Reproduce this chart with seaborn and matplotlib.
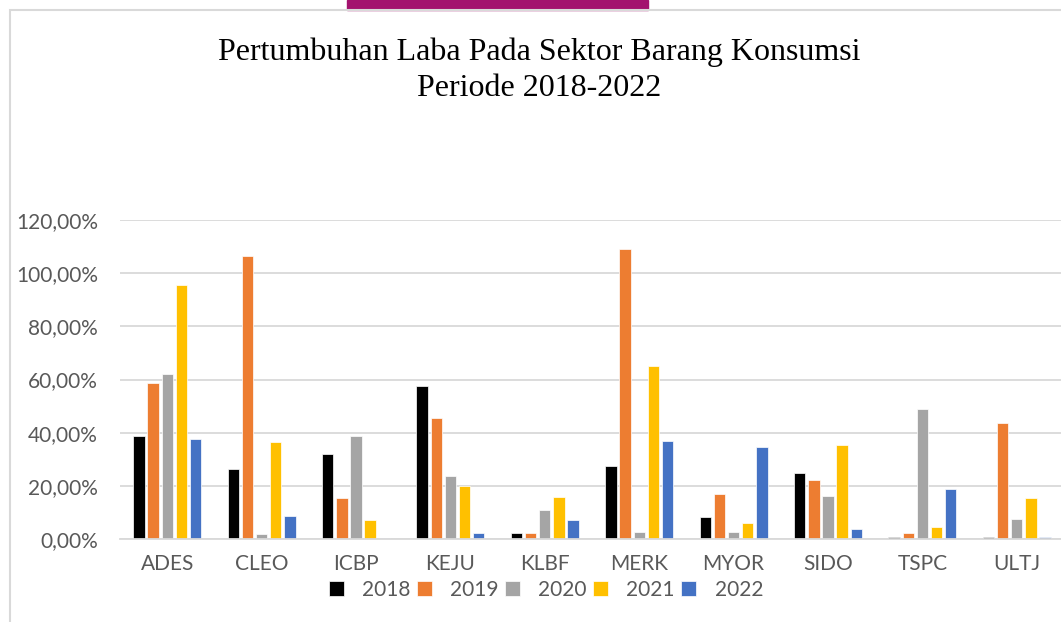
import pandas as pd
import matplotlib.pyplot as plt
import seaborn as sns
from matplotlib.patches import Rectangle
from matplotlib.ticker import FuncFormatter

sns.set_theme(style="white")

# Data (% laba growth)
companies = ['ADES', 'CLEO', 'ICBP', 'KEJU', 'KLBF', 'MERK', 'MYOR', 'SIDO', 'TSPC', 'ULTJ']
years = ['2018', '2019', '2020', '2021', '2022']
g2018 = [38.7, 26.2, 32.0, 57.6, 2.1, 27.3, 8.2, 24.8, 0.6, 0.6]
g2019 = [58.7, 106.6, 15.3, 45.5, 2.1, 109.2, 16.8, 22.1, 2.1, 43.6]
g2020 = [62.1, 1.8, 38.7, 23.6, 10.8, 2.5, 2.5, 16.2, 48.9, 7.5]
g2021 = [95.6, 36.4, 7.0, 19.9, 15.7, 65.2, 5.9, 35.4, 4.4, 15.3]
g2022 = [37.6, 8.5, 0.5, 2.1, 7.0, 36.9, 34.6, 3.6, 18.7, 0.9]
colors = ['#000000', '#ed7d31', '#a5a5a5', '#ffc000', '#4472c4']

rows = []
for yr, vals in zip(years, [g2018, g2019, g2020, g2021, g2022]):
    for c, v in zip(companies, vals):
        rows.append({'company': c, 'year': yr, 'growth': v})
df = pd.DataFrame(rows)

W, H = 1061, 622
fig = plt.figure(figsize=(W / 100, H / 100), dpi=100)
ax = fig.add_axes([120 / W, (H - 539) / H, (1064 - 120) / W, (539 - 220) / H])

sns.barplot(data=df, x='company', y='growth', hue='year', order=companies,
            hue_order=years, palette=colors, saturation=1, width=0.75, gap=0.2,
            edgecolor='white', linewidth=0.5, ax=ax, legend=True)

ax.set_ylim(0, 120)
ax.set_xlim(-0.5, len(companies) - 0.5)
ax.set_yticks(range(0, 121, 20))
ax.yaxis.set_major_formatter(FuncFormatter(lambda v, p: f"{v:.2f}".replace('.', ',') + '%'))
ax.grid(axis='y', color='#d9d9d9', linewidth=1.3)
ax.set_axisbelow(True)
for s in ['top', 'right', 'left']:
    ax.spines[s].set_visible(False)
ax.spines['bottom'].set_color('#d9d9d9')
ax.spines['bottom'].set_linewidth(1.3)
ax.set_xlabel('')
ax.set_ylabel('')
ax.tick_params(axis='both', length=0, labelsize=15, labelcolor='#595959')
ax.tick_params(axis='x', pad=11)
ax.tick_params(axis='y', pad=16)
for lbl in ax.get_xticklabels() + ax.get_yticklabels():
    lbl.set_family('Lato')

handles, labels = ax.get_legend_handles_labels()
ax.legend(handles, labels, loc='center', bbox_to_anchor=(546 / W, (H - 590) / H),
          bbox_transform=fig.transFigure, ncol=5, frameon=False,
          handlelength=0.7, handleheight=0.7, handletextpad=0.9, columnspacing=0.3,
          prop={'family': 'Lato', 'size': 15}, labelcolor='#595959')

fig.text(539 / W, (H - 52) / H, 'Pertumbuhan Laba Pada Sektor Barang Konsumsi',
         ha='center', va='center', family='Liberation Serif', fontsize=23, color='black')
fig.text(539 / W, (H - 88) / H, 'Periode 2018-2022',
         ha='center', va='center', family='Liberation Serif', fontsize=23, color='black')

# chart frame and the cropped logo at the top
fig.patches.append(Rectangle((347 / W, (H - 10) / H), (648 - 347) / W, 10 / H,
                             transform=fig.transFigure, color='#a3126e', zorder=0))
fig.patches.append(Rectangle((10 / W, -0.05), 1.1, (H - 10) / H + 0.05,
                             transform=fig.transFigure, fill=False,
                             edgecolor='#d9d9d9', linewidth=1.5, zorder=1))

fig.savefig('out.png', dpi=100)
